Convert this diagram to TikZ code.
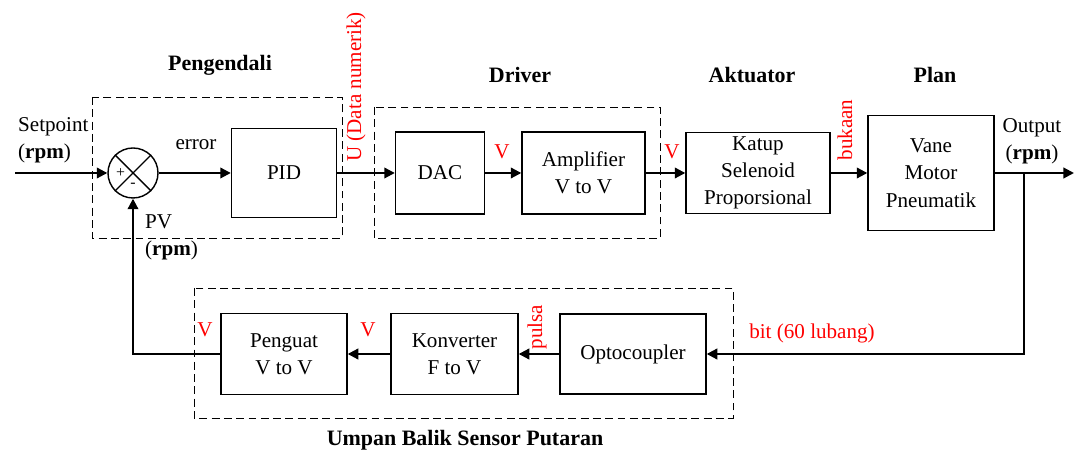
\documentclass[tikz,border=0pt]{standalone}
\usepackage{fontspec}
\setmainfont{Liberation Serif}
\newfontfamily\serifrm{Liberation Serif}
\usepackage{tikz}
\usetikzlibrary{arrows.meta,positioning,calc,shapes.geometric}

\begin{document}
\begin{tikzpicture}[>={Triangle[length=6pt,width=6pt]},
  every node/.style={font=\serifrm\fontsize{12pt}{15.5pt}\selectfont},
  blok/.style={draw,thick,align=center,inner sep=1pt},
  grup/.style={draw,thin,dash pattern=on 4.5pt off 2.5pt},
  judul/.style={font=\serifrm\fontsize{12.5pt}{15pt}\selectfont\bfseries},
  sinyal/.style={text=red},
  panah/.style={->,line width=1.2pt}]
  \useasboundingbox (0,0) rectangle (21.5,9.04);
  % dashed groups
  \draw[grup] (1.84,7.1) rectangle (6.84,4.28);
  \draw[grup] (7.48,6.9) rectangle (13.2,4.28);
  \draw[grup] (3.88,3.28) rectangle (14.66,0.68);
  \node[judul] (tpeng) at (4.4,7.74) {Pengendali};
  \node[judul] (tdrv) at (10.4,7.54) {Driver};
  \node[judul] (takt) at (15.04,7.54) {Aktuator};
  \node[judul] (tplan) at (18.7,7.54) {Plan};
  \node[judul] (tumpan) at (9.3,0.24) {Umpan Balik Sensor Putaran};
  % forward path
  \node[circle,draw,thick,minimum size=1cm,inner sep=0pt] (sum) at (2.66,5.58) {};
  \draw[thick] (sum.north west) -- (sum.south east) (sum.north east) -- (sum.south west);
  \node[font=\serifrm\fontsize{9pt}{9pt}\selectfont] (plus) at ($(sum.center)+(-0.25,0)$) {+};
  \node[font=\serifrm\fontsize{9pt}{9pt}\selectfont] (minus) at ($(sum.center)+(0,-0.25)$) {-};
  \node[blok,minimum width=2.1cm,minimum height=1.78cm] (pid) at (5.68,5.58) {PID};
  \node[blok,minimum width=1.78cm,minimum height=1.64cm] (dac) at (8.8,5.58) {DAC};
  \node[blok,minimum width=2.46cm,minimum height=1.64cm] (amp) at (11.67,5.58) {Amplifier\\V to V};
  \node[blok,minimum width=2.88cm,minimum height=1.62cm] (katup) at (15.16,5.58) {Katup\\Selenoid\\Proporsional};
  \node[blok,minimum width=2.52cm,minimum height=2.3cm] (vane) at (18.62,5.58) {Vane\\Motor\\Pneumatik};
  % feedback path
  \node[blok,minimum width=2.52cm,minimum height=1.62cm] (peng) at (5.68,1.96) {Penguat\\V to V};
  \node[blok,minimum width=2.54cm,minimum height=1.62cm] (konv) at (9.09,1.96) {Konverter\\F to V};
  \node[blok,minimum width=2.92cm,minimum height=1.6cm] (opto) at (12.66,1.96) {Optocoupler};
  \coordinate (sp) at (0.3,5.58);
  \coordinate (out) at (21.48,5.58);
  \coordinate (br) at (20.48,5.58);
  \draw[panah] (sp) -- (sum.west);
  \draw[panah] (sum.east) -- (pid.west);
  \draw[panah] (pid.east) -- (dac.west);
  \draw[panah] (dac.east) -- (amp.west);
  \draw[panah] (amp.east) -- (katup.west);
  \draw[panah] (katup.east) -- (vane.west);
  \draw[panah] (vane.east) -- (out);
  \draw[panah] (br) |- (opto.east);
  \draw[panah] (opto.west) -- (konv.east);
  \draw[panah] (konv.west) -- (peng.east);
  \draw[panah] (peng.west) -| (sum.south);
  % labels
  \node[anchor=west,align=left] (lsp) at (0.24,6.24) {Setpoint\\(\textbf{rpm})};
  \node (lerr) at (3.92,6.14) {error};
  \node[anchor=west,align=left] (lpv) at (2.78,4.3) {PV\\(\textbf{rpm})};
  \node[align=center] (lout) at (20.64,6.22) {Output\\(\textbf{rpm})};
  \node[sinyal,rotate=90] (lu) at (7.12,7.3) {U (Data numerik)};
  \node[sinyal] (lv1) at (10.04,6.0) {V};
  \node[sinyal] (lv2) at (13.44,6.0) {V};
  \node[sinyal,rotate=90] (lbuka) at (16.9,6.44) {bukaan};
  \node[sinyal] (lv3) at (4.1,2.44) {V};
  \node[sinyal] (lv4) at (7.36,2.44) {V};
  \node[sinyal,rotate=90] (lpulsa) at (10.74,2.5) {pulsa};
  \node[sinyal] (lbit) at (16.24,2.38) {bit (60 lubang)};
\end{tikzpicture}
\end{document}
